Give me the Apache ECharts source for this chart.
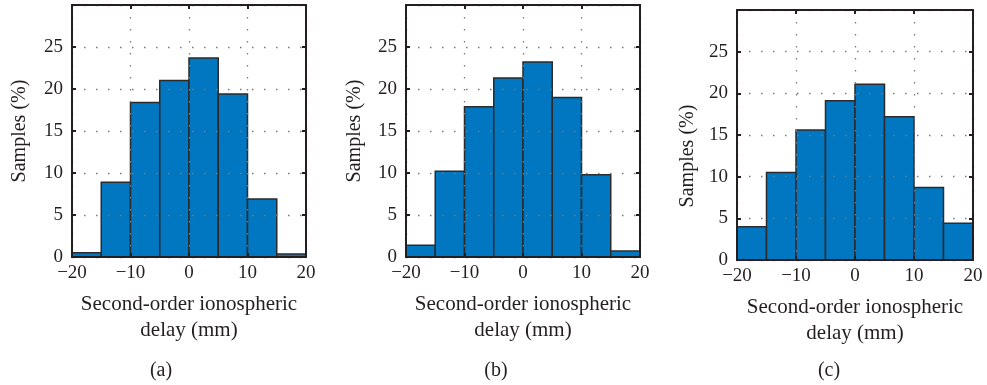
<!DOCTYPE html>
<html>
<head>
<meta charset="utf-8">
<script src="https://cdn.jsdelivr.net/npm/echarts@6/dist/echarts.min.js"></script>
<style>
  html, body { margin: 0; padding: 0; background: #fff; }
  #chart { width: 987px; height: 385px; }
</style>
</head>
<body>
<div id="chart"></div>
<script>
// Histogram bin edges (mm) shared by all three panels
const binEdges = [-20, -15, -10, -5, 0, 5, 10, 15, 20];
// Share of samples per bin (%)
const samplesA = [0.5, 8.9, 18.4, 21.0, 23.7, 19.4, 6.9, 0.35];
const samplesB = [1.4, 10.2, 17.9, 21.3, 23.2, 19.0, 9.8, 0.7];
const samplesC = [4.0, 10.5, 15.6, 19.1, 21.1, 17.2, 8.7, 4.4];
const xTicks = [-20, -10, 0, 10, 20];
const yTicks = [0, 5, 10, 15, 20, 25];
const panelLetters = ['(a)', '(b)', '(c)'];
const xTitle = 'Second-order ionospheric\ndelay (mm)';
const yTitle = 'Samples (%)';

const FONT = 'Liberation Serif';
const INK = '#231f20';
const BAR = '#0077c0';
const TICK_SIZE = 19;
const TITLE_SIZE = 21;

function binRows(values) {
  return values.map((v, i) => [binEdges[i], binEdges[i + 1], v]);
}

const grids = [
  { left: 72, top: 5, width: 234, height: 252 },
  { left: 406, top: 5, width: 234, height: 252 },
  { left: 737, top: 10, width: 236, height: 250 }
];
const seriesValues = [samplesA, samplesB, samplesC];

const xAxes = [], yAxes = [], series = [];
const minusFmt = v => (v < 0 ? '\u2212' + Math.abs(v) : String(v));

grids.forEach((g, i) => {
  // bottom axis with labels and dotted vertical grid
  xAxes.push({
    gridIndex: i, type: 'value', min: -20, max: 20, interval: 10, position: 'bottom', z: 5,
    axisLine: { show: true, onZero: false, lineStyle: { color: INK, width: 2 } },
    axisTick: { show: true, inside: true, length: 4, lineStyle: { color: INK, width: 2 } },
    axisLabel: { show: true, margin: 7, color: INK, fontFamily: FONT, fontSize: TICK_SIZE,
      formatter: v => (xTicks.indexOf(v) >= 0 ? minusFmt(v) : ''), showMinLabel: true, showMaxLabel: true },
    splitLine: { show: true, lineStyle: { color: '#7a7a7a', width: 1.3, type: [1.5, 10.5] } },
    name: xTitle, nameLocation: 'middle', nameGap: 34,
    nameTextStyle: { color: INK, fontFamily: FONT, fontSize: TITLE_SIZE, lineHeight: 26 }
  });
  // top edge of the frame
  xAxes.push({
    gridIndex: i, type: 'value', min: -20, max: 20, interval: 10, position: 'top', z: 5,
    axisLine: { show: true, onZero: false, lineStyle: { color: INK, width: 2 } },
    axisTick: { show: true, inside: true, length: 4, lineStyle: { color: INK, width: 2 } },
    axisLabel: { show: false }, splitLine: { show: false }
  });
  yAxes.push({
    gridIndex: i, type: 'value', min: 0, max: 30, interval: 5, position: 'left', z: 5,
    axisLine: { show: true, onZero: false, lineStyle: { color: INK, width: 2 } },
    axisTick: { show: true, inside: true, length: 4, lineStyle: { color: INK, width: 2 } },
    axisLabel: { show: true, margin: 9, color: INK, fontFamily: FONT, fontSize: TICK_SIZE,
      formatter: v => (yTicks.indexOf(v) >= 0 ? String(v) : '') },
    splitLine: { show: true, lineStyle: { color: '#7a7a7a', width: 1.3, type: [1.5, 10.5] } }
  });
  // right edge of the frame
  yAxes.push({
    gridIndex: i, type: 'value', min: 0, max: 30, interval: 5, position: 'right', z: 5,
    axisLine: { show: true, onZero: false, lineStyle: { color: INK, width: 2 } },
    axisTick: { show: true, inside: true, length: 4, lineStyle: { color: INK, width: 2 } },
    axisLabel: { show: false }, splitLine: { show: false }
  });
  series.push({
    type: 'custom',
    xAxisIndex: i * 2, yAxisIndex: i * 2,
    data: binRows(seriesValues[i]),
    encode: { x: [0, 1], y: 2 },
    z: 2,
    renderItem: function (params, api) {
      const topLeft = api.coord([api.value(0), api.value(2)]);
      const bottomRight = api.coord([api.value(1), 0]);
      return {
        type: 'rect',
        shape: { x: topLeft[0], y: topLeft[1],
          width: bottomRight[0] - topLeft[0], height: bottomRight[1] - topLeft[1] },
        style: { fill: BAR, stroke: '#2b2b2b', lineWidth: 1.5 }
      };
    }
  });
});

const yTitlePos = [[20, 131], [355, 131], [688, 156]];
const captionX = [161, 496, 829];
const graphics = [];
yTitlePos.forEach(p => {
  graphics.push({
    type: 'text', x: p[0], y: p[1], rotation: Math.PI / 2,
    style: { text: yTitle, fill: INK, font: '20px "' + FONT + '"', align: 'center', verticalAlign: 'middle' }
  });
});
captionX.forEach((x, i) => {
  graphics.push({
    type: 'text', x: x, y: 371,
    style: { text: panelLetters[i], fill: INK, font: '20px "' + FONT + '"', align: 'center', verticalAlign: 'middle' }
  });
});

const chart = echarts.init(document.getElementById('chart'), null, { renderer: 'canvas' });
chart.setOption({
  animation: false,
  backgroundColor: '#fff',
  grid: grids,
  xAxis: xAxes,
  yAxis: yAxes,
  series: series,
  graphic: graphics
});
</script>
</body>
</html>
